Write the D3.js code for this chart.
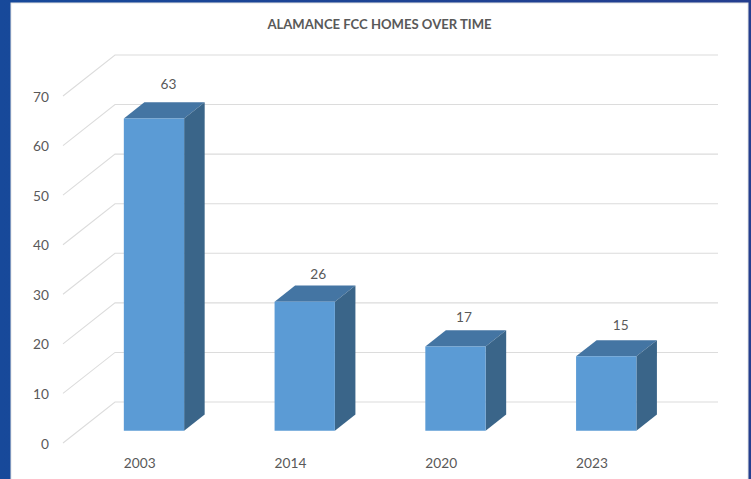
<!DOCTYPE html>
<html>
<head>
<meta charset="utf-8">
<script src="https://d3js.org/d3.v7.min.js"></script>
<style>
    html, body { margin: 0; padding: 0; background: #1a4a9a; overflow: hidden; }
    svg { display: block; }
    text { font-family: Lato, sans-serif; fill: #595959; }
</style>
</head>
<body>
<svg id="chart" width="751" height="479"></svg>
<script>
// Chart data
const years = ["2003", "2014", "2020", "2023"];
const homes = [63, 26, 17, 15];
const yTicks = [0, 10, 20, 30, 40, 50, 60, 70];
const chartTitle = "ALAMANCE FCC HOMES OVER TIME";

const svg = d3.select("#chart");

// Blue frame behind the white panel
const frame = svg.append("defs").append("linearGradient")
    .attr("id", "frame");
frame.append("stop").attr("offset", "0%").attr("stop-color", "#17499a");
frame.append("stop").attr("offset", "100%").attr("stop-color", "#243e8f");

svg.append("rect")
    .attr("width", 751)
    .attr("height", 479)
    .attr("fill", "url(#frame)");

svg.append("rect")
    .attr("x", 11)
    .attr("y", 3)
    .attr("width", 737)
    .attr("height", 480)
    .attr("fill", "#fff")
    .attr("stroke", "#e4e4e4");

// Front plane of the 3D plot
const x = d3.scaleBand()
    .domain(years)
    .range([63, 666])
    .paddingInner(0.6)
    .paddingOuter(0.3);

const y = d3.scaleLinear()
    .domain([0, 70])
    .range([443, 96]);

// Depth of the floor, and the slice of it the bars stand in
const depth = { dx: 52, dy: 41 };
const barStart = 0.3;
const barEnd = 0.695;
const project = (px, py, t) => [px + depth.dx * t, py - depth.dy * t];

// Value labels were dragged by hand in the original, so they don't line up with the bars
const labelGap = d3.scaleOrdinal().domain(years).range([18, 12, 13.5, 15]);
const labelShift = d3.scaleOrdinal().domain(years).range([-6, -7, -12, -6]);

// Add chart title
svg.append("text")
    .attr("x", 379.5)
    .attr("y", 29)
    .attr("text-anchor", "middle")
    .attr("font-size", "13.1px")
    .attr("font-weight", "bold")
    .text(chartTitle);

// Gridlines, slanted wall then back wall
svg.selectAll(".grid")
    .data(yTicks)
    .enter().append("polyline")
    .attr("class", "grid")
    .attr("fill", "none")
    .attr("stroke", "#dcdcdc")
    .attr("stroke-width", 1.1)
    .attr("points", d => {
        const back = project(x.range()[0], y(d), 1);
        return [[x.range()[0], y(d)], back, [x.range()[1] + depth.dx, back[1]]].join(" ");
    });

// Y tick labels
svg.selectAll(".y-label")
    .data(yTicks)
    .enter().append("text")
    .attr("class", "y-label")
    .attr("x", 49)
    .attr("y", d => y(d) + 0.7)
    .attr("dy", "0.36em")
    .attr("text-anchor", "end")
    .attr("font-size", "13.7px")
    .text(d => d);

// Draw the bars, each one as three faces
const bars = svg.selectAll(".bar")
    .data(years.map((year, i) => ({ year, value: homes[i] })))
    .enter().append("g")
    .attr("class", "bar");

const corners = d => {
    const left = x(d.year);
    const right = left + x.bandwidth();
    return {
        a: project(left, y(d.value), barStart),
        b: project(right, y(d.value), barStart),
        c: project(right, y(d.value), barEnd),
        d: project(left, y(d.value), barEnd),
        e: project(right, y(0), barStart),
        f: project(right, y(0), barEnd),
        g: project(left, y(0), barStart)
    };
};

// Top face
bars.append("polygon")
    .attr("fill", "#4475a3")
    .attr("points", d => {
        const c = corners(d);
        return [c.a, c.b, c.c, c.d].join(" ");
    });

// Side face
bars.append("polygon")
    .attr("fill", "#3a6589")
    .attr("points", d => {
        const c = corners(d);
        return [c.b, c.c, c.f, c.e].join(" ");
    });

// Front face
bars.append("polygon")
    .attr("fill", "#5b9bd5")
    .attr("points", d => {
        const c = corners(d);
        return [c.a, c.b, c.e, c.g].join(" ");
    });

// Value labels above the bars
bars.append("text")
    .attr("x", d => x(d.year) + x.bandwidth() / 2 + depth.dx * barEnd + labelShift(d.year))
    .attr("y", d => y(d.value) - depth.dy * barEnd - labelGap(d.year))
    .attr("dy", "0.36em")
    .attr("text-anchor", "middle")
    .attr("font-size", "13.7px")
    .text(d => d.value);

// X labels line up with the left edge of the bars
svg.selectAll(".x-label")
    .data(years)
    .enter().append("text")
    .attr("class", "x-label")
    .attr("x", d => x(d) + depth.dx * barStart)
    .attr("y", 468)
    .attr("font-size", "13.7px")
    .text(d => d);
</script>
</body>
</html>
